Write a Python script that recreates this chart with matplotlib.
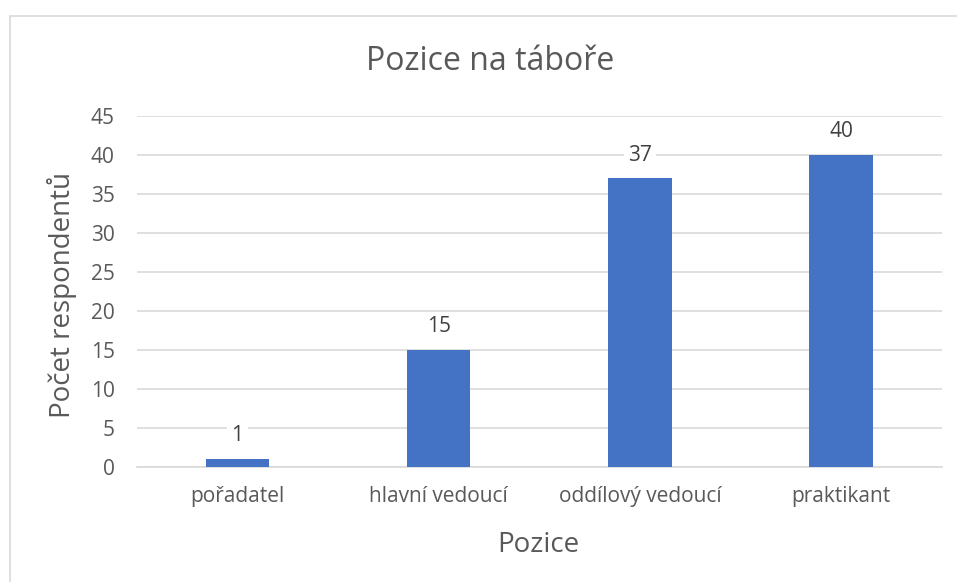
import matplotlib.pyplot as plt
import matplotlib.patches as mpatches

positions = ["pořadatel", "hlavní vedoucí", "oddílový vedoucí", "praktikant"]
counts = [1, 15, 37, 40]
yticks = [0, 5, 10, 15, 20, 25, 30, 35, 40, 45]

plt.rcParams['font.family'] = ['Open Sans', 'DejaVu Sans']
text_col = '#595959'

fig = plt.figure(figsize=(9.57, 5.82), dpi=100)
ax = fig.add_axes([0.143, 0.198, 0.841, 0.603])

# chart border
fig.patches.append(mpatches.Rectangle((10/957, -0.01), 1.0, 1 - 16/582 + 0.01,
                                      transform=fig.transFigure, fill=False,
                                      edgecolor='#D9D9D9', linewidth=1.2))

x = range(len(positions))
ax.bar(x, counts, width=0.315, color='#4472C4', zorder=3)
for xi, v in zip(x, counts):
    ax.text(xi, v + 1.6, str(v), ha='center', va='bottom', fontsize=15, color='#404040',
            bbox=dict(facecolor='white', edgecolor='none', pad=3), zorder=4)

ax.set_xlim(-0.5, 3.5)
ax.set_ylim(0, 45)
ax.set_yticks(yticks)
ax.set_xticks(list(x))
ax.set_xticklabels(positions)
ax.grid(axis='y', color='#D9D9D9', linewidth=1.2, zorder=0)
for s in ['top', 'right', 'left']:
    ax.spines[s].set_visible(False)
ax.spines['bottom'].set_color('#D9D9D9')
ax.spines['bottom'].set_linewidth(1.2)
ax.tick_params(length=0, labelsize=15, colors=text_col)
ax.tick_params(axis='y', pad=16)
ax.tick_params(axis='x', pad=14)

fig.text(490/957, 1 - 62/582, "Pozice na táboře", fontsize=23, color=text_col,
         ha='center', va='center')
fig.text(538/957, 1 - 545/582, "Pozice", fontsize=20, color=text_col,
         ha='center', va='center')
fig.text(62/957, 1 - 295/582, "Počet respondentů", fontsize=20, color=text_col,
         ha='center', va='center', rotation=90)

fig.savefig("out.png", dpi=100)
